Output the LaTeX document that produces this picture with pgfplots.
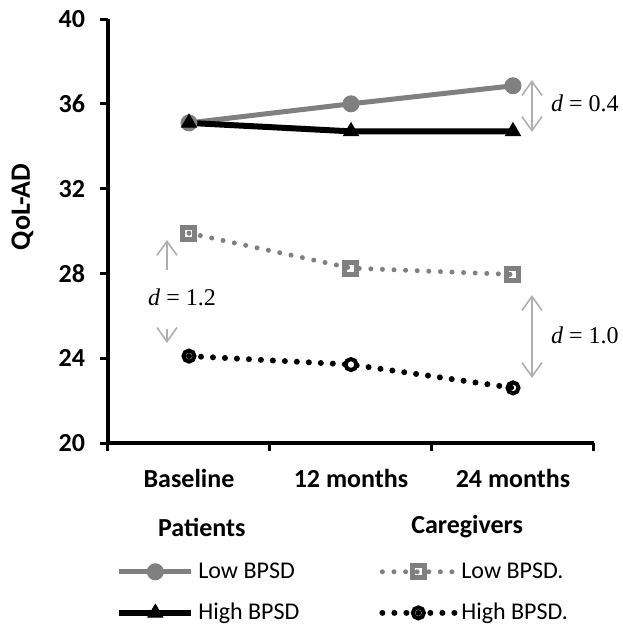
\documentclass[border=0pt]{standalone}
\usepackage{fontspec}
\setmainfont{Carlito}
\newfontfamily\timesf{Liberation Serif}
\usepackage{pgfplots}
\pgfplotsset{compat=1.18}
\usetikzlibrary{arrows.meta}
\definecolor{lgray}{RGB}{128,128,128}
\definecolor{agray}{RGB}{175,175,175}

\begin{document}
\begin{tikzpicture}
\begin{axis}[
  name=ax,
  scale only axis,
  width=243pt, height=212pt,
  xmin=0, xmax=3, ymin=20, ymax=40,
  axis x line=bottom, axis y line=left,
  axis line style={-, line width=2.2pt},
  xtick={0.5,1.5,2.5},
  xticklabels={Baseline, 12 months, 24 months},
  minor xtick={0,1,2,3},
  ytick={20,24,...,40},
  tick align=outside,
  major tick length=4pt, minor tick length=4pt,
  tick style={line width=1.5pt, black},
  major x tick style={draw=none},
  ticklabel style={font=\bfseries\fontsize{13}{15}\selectfont},
  xticklabel style={yshift=-5.5pt},
  yticklabel style={xshift=-4pt},
  /pgf/number format/assume math mode=true,
  ylabel={QoL-AD},
  ylabel style={font=\bfseries\fontsize{14}{16}\selectfont, at={(axis description cs:-0.176,0.557)}, anchor=center},
  clip=false,
  legend columns=2,
  legend cell align=left,
  legend style={draw=none, at={(axis description cs:0.004,-0.262)}, anchor=north west,
    font=\fontsize{12}{14}\selectfont, row sep=7pt,
    /tikz/every even column/.append style={column sep=38pt}},
  legend image code/.code={\draw[mark repeat=2,mark phase=2,#1] plot coordinates {(0pt,0pt) (18pt,0pt) (36pt,0pt)};},
]
% patients, low BPSD
\addplot[lgray, line width=2.5pt, mark=*, mark size=4pt, mark options={solid, fill=lgray, line width=0.5pt}]
  coordinates {(0.5,35.1) (1.5,36.0) (2.5,36.85)};
\addlegendentry{Low BPSD}
% caregivers, low BPSD
\addplot[lgray, line width=2.5pt, line cap=round, dash pattern=on 0pt off 5.8pt, mark=square, mark size=3pt, mark options={solid, line width=2.5pt}]
  coordinates {(0.5,29.9) (1.5,28.25) (2.5,27.95)};
\addlegendentry{Low BPSD.}
% patients, high BPSD
\addplot[black, line width=3pt, mark=triangle*, mark size=4.3pt, mark options={solid, line width=0.5pt}]
  coordinates {(0.5,35.1) (1.5,34.7) (2.5,34.7)};
\addlegendentry{High BPSD}
% caregivers, high BPSD
\addplot[black, line width=3pt, line cap=round, dash pattern=on 0pt off 6pt, mark=o, mark size=2.75pt, mark options={solid, line width=2pt}]
  coordinates {(0.5,24.1) (1.5,23.7) (2.5,22.6)};
\addlegendentry{High BPSD.}

% effect sizes
\draw[agray, line width=0.8pt, {Straight Barb[length=7pt,width=10pt]}-{Straight Barb[length=7pt,width=10pt]}]
  (axis cs:2.617,37.12) -- (axis cs:2.617,34.67);
\node[font=\timesf\fontsize{12}{14}\selectfont] at (axis cs:2.944,36.04) {\textit{d} = 0.4};
\draw[agray, line width=0.8pt, -{Straight Barb[length=7pt,width=10pt]}]
  (axis cs:0.364,28.16) -- (axis cs:0.364,29.58);
\draw[agray, line width=0.8pt, -{Straight Barb[length=7pt,width=10pt]}]
  (axis cs:0.364,25.4) -- (axis cs:0.364,24.72);
\node[font=\timesf\fontsize{12}{14}\selectfont] at (axis cs:0.457,26.89) {\textit{d} = 1.2};
\draw[agray, line width=0.8pt, {Straight Barb[length=7pt,width=10pt]}-{Straight Barb[length=7pt,width=10pt]}]
  (axis cs:2.617,26.98) -- (axis cs:2.617,23.07);
\node[font=\timesf\fontsize{12}{14}\selectfont] at (axis cs:2.944,25.09) {\textit{d} = 1.0};

% legend headers
\node[font=\bfseries\fontsize{13}{15}\selectfont] at (axis description cs:0.193,-0.198) {Patients};
\node[font=\bfseries\fontsize{13}{15}\selectfont] at (axis description cs:0.739,-0.198) {Caregivers};
\end{axis}
\pgfresetboundingbox
\path ([xshift=-54pt,yshift=-93pt]ax.south west) rectangle ([xshift=257.5pt,yshift=221.5pt]ax.south west);
\end{tikzpicture}
\end{document}
